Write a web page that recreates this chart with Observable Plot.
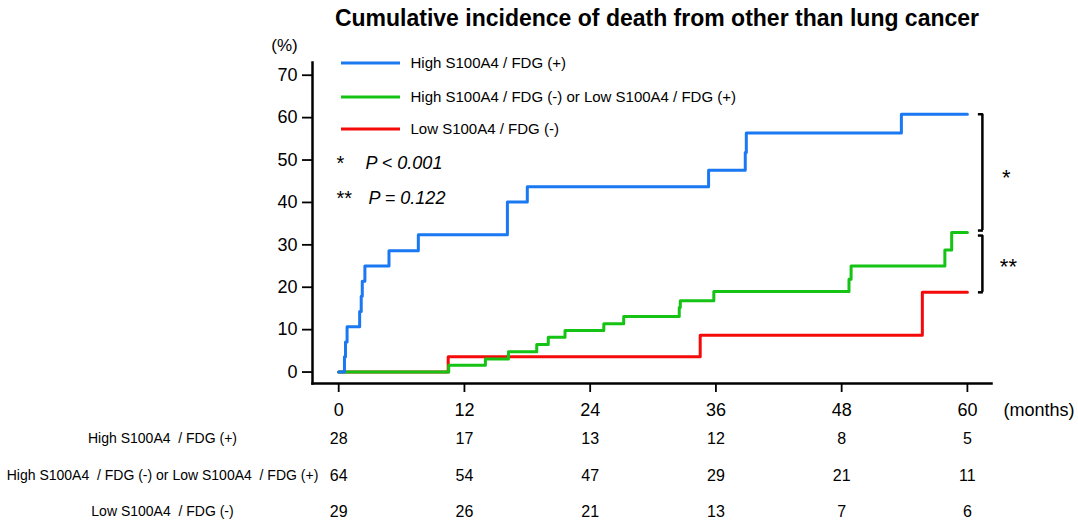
<!DOCTYPE html>
<html><head><meta charset="utf-8">
<script src="https://cdn.jsdelivr.net/npm/d3@7"></script>
<script src="https://cdn.jsdelivr.net/npm/@observablehq/plot@0.6"></script>
<style>
body{margin:0;background:#fff;font-family:"Liberation Sans",Arial,sans-serif;}
#title{height:36px;line-height:36px;font-size:23px;font-weight:bold;text-align:center;padding-left:236px;width:842px;color:#000;white-space:nowrap;}
#chart svg{display:block;}
</style></head><body>
<div id="title">Cumulative incidence of death from other than lung cancer</div>
<div id="chart"></div>
<script>
// ---- data ----
const groups = ["High S100A4 / FDG (+)", "High S100A4 / FDG (-) or Low S100A4 / FDG (+)", "Low S100A4 / FDG (-)"];
const tableLabels = ["High S100A4  / FDG (+)", "High S100A4  / FDG (-) or Low S100A4  / FDG (+)", "Low S100A4  / FDG (-)"];
const colors = ["#1a78f2", "#14c314", "#f50a0a"];

const highPosTime  = [0, 0.55, 0.65, 0.8, 2.0, 2.15, 2.25, 2.5, 4.8, 7.6, 16.1, 18.0, 35.3, 38.8, 38.9, 53.7, 60];
const highPosValue = [0, 3.6, 7.1, 10.7, 14.3, 17.9, 21.4, 25.0, 28.6, 32.4, 40.1, 43.7, 47.6, 51.8, 56.4, 60.8, 60.8];

const mixedTime  = [0, 10.5, 14.0, 16.2, 18.9, 20.0, 21.6, 25.3, 27.2, 32.5, 32.6, 35.8, 48.7, 48.9, 57.85, 58.5, 60];
const mixedValue = [0, 1.6, 3.1, 4.8, 6.5, 8.2, 9.8, 11.4, 13.1, 15.2, 16.8, 19.0, 21.9, 25.0, 28.8, 32.9, 32.9];

const lowNegTime  = [0, 10.45, 34.5, 55.7, 60];
const lowNegValue = [0, 3.6, 8.7, 18.8, 18.8];

const monthTicks = [0, 12, 24, 36, 48, 60];
const pctTicks = [0, 10, 20, 30, 40, 50, 60, 70];
const atRiskHighPos = [28, 17, 13, 12, 8, 5];
const atRiskMixed   = [64, 54, 47, 29, 21, 11];
const atRiskLowNeg  = [29, 26, 21, 13, 7, 6];
const pLabels = [["*", "P < 0.001"], ["**", "P = 0.122"]];

// ---- build tables ----
const toRows = (t, v) => t.map((d, i) => ({time: d, value: v[i]}));
const curves = [toRows(highPosTime, highPosValue), toRows(mixedTime, mixedValue), toRows(lowNegTime, lowNegValue)];
const risks = [atRiskHighPos, atRiskMixed, atRiskLowNeg].map(r => r.map((n, i) => ({time: monthTicks[i], n})));
const ends = curves.map(c => c[c.length - 1].value);
const lastT = monthTicks[monthTicks.length - 1];

const xDomain = [-2.5, 62.3];
const yDomain = [-2.7, 73.0];
const rowDy = [55, 92, 128];
const legendDy = [1, 35, 67];

const marks = [
  Plot.frame({anchor: "left", stroke: "#000", strokeWidth: 2.5}),
  Plot.frame({anchor: "bottom", stroke: "#000", strokeWidth: 2.5}),
  Plot.axisX({ticks: monthTicks, tickSize: 9, tickPadding: 11, fontSize: 18, strokeWidth: 1.8, label: null}),
  Plot.axisY({ticks: pctTicks, tickSize: 10, tickPadding: 5, fontSize: 18, strokeWidth: 1.8, label: null}),
  Plot.text(["(%)"], {frameAnchor: "top-left", dx: -28, dy: -17, fontSize: 17, textAnchor: "middle", lineAnchor: "middle"}),
  Plot.text(["(months)"], {frameAnchor: "bottom-right", dx: 12, dy: 27, fontSize: 18, textAnchor: "start", lineAnchor: "middle"}),
];
// curves: red, green, blue (blue on top)
[2, 1, 0].forEach(g => {
  marks.push(Plot.line(curves[g], {x: "time", y: "value", stroke: colors[g], strokeWidth: 3, curve: "step-after"}));
});
// brackets
const bw = 2.5;
marks.push(
  Plot.ruleX([0], {x: () => lastT, y1: () => ends[0], y2: () => ends[1], dx: 15, insetBottom: 2, stroke: "#000", strokeWidth: bw}),
  Plot.ruleX([0], {x: () => lastT, y1: () => ends[1], y2: () => ends[2], dx: 15, insetTop: 3, stroke: "#000", strokeWidth: bw}),
  Plot.ruleY([ends[0]], {x1: lastT, x2: lastT, dx: 11, insetRight: -5, stroke: "#000", strokeWidth: bw}),
  Plot.ruleY([ends[1]], {x1: lastT, x2: lastT, dx: 11, dy: -2, insetRight: -5, stroke: "#000", strokeWidth: bw}),
  Plot.ruleY([ends[1]], {x1: lastT, x2: lastT, dx: 11, dy: 3, insetRight: -5, stroke: "#000", strokeWidth: bw}),
  Plot.ruleY([ends[2]], {x1: lastT, x2: lastT, dx: 11, insetRight: -5, stroke: "#000", strokeWidth: bw}),
  Plot.text([0], {x: () => lastT, y: () => (ends[0] + ends[1]) / 2, text: () => pLabels[0][0], dx: 39, dy: 5, fontSize: 22, textAnchor: "middle"}),
  Plot.text([0], {x: () => lastT, y: () => (ends[1] + ends[2]) / 2, text: () => pLabels[1][0], dx: 41, dy: 5, fontSize: 22, textAnchor: "middle"})
);
// legend labels + p-values
groups.forEach((g, i) => {
  marks.push(Plot.text([g], {frameAnchor: "top-left", dx: 98, dy: legendDy[i], fontSize: 15, textAnchor: "start", lineAnchor: "middle"}));
});
pLabels.forEach((p, i) => {
  marks.push(Plot.text([p[0]], {frameAnchor: "top-left", dx: 24, dy: 101 + 35 * i, fontSize: 20, textAnchor: "start", lineAnchor: "middle"}));
  marks.push(Plot.text([p[1]], {frameAnchor: "top-left", dx: 53 + 3 * i, dy: 101 + 35 * i, fontSize: 18, fontStyle: "italic", textAnchor: "start", lineAnchor: "middle"}));
});
// number at risk
risks.forEach((r, i) => {
  marks.push(Plot.text([tableLabels[i]], {frameAnchor: "bottom-left", dx: -150, dy: rowDy[i], fontSize: 14, textAnchor: "middle", lineAnchor: "middle"}));
  marks.push(Plot.text(r, {x: "time", text: "n", frameAnchor: "bottom", dy: rowDy[i], fontSize: 16, lineAnchor: "middle"}));
});

const svg = Plot.plot({
  width: 1078, height: 485,
  marginTop: 26, marginBottom: 138, marginLeft: 312, marginRight: 87,
  style: {fontFamily: '"Liberation Sans", Arial, sans-serif', color: "#000", background: "#fff", overflow: "visible"},
  x: {domain: xDomain},
  y: {domain: yDomain},
  marks
});

// legend swatches
const legendY = legendDy.map(d => 26 + d);
const gsel = d3.select(svg).append("g");
groups.forEach((g, i) => {
  gsel.append("line").attr("x1", 341).attr("x2", 400).attr("y1", legendY[i]).attr("y2", legendY[i])
    .attr("stroke", colors[i]).attr("stroke-width", 3);
});
document.getElementById("chart").appendChild(svg);
</script>
</body></html>
